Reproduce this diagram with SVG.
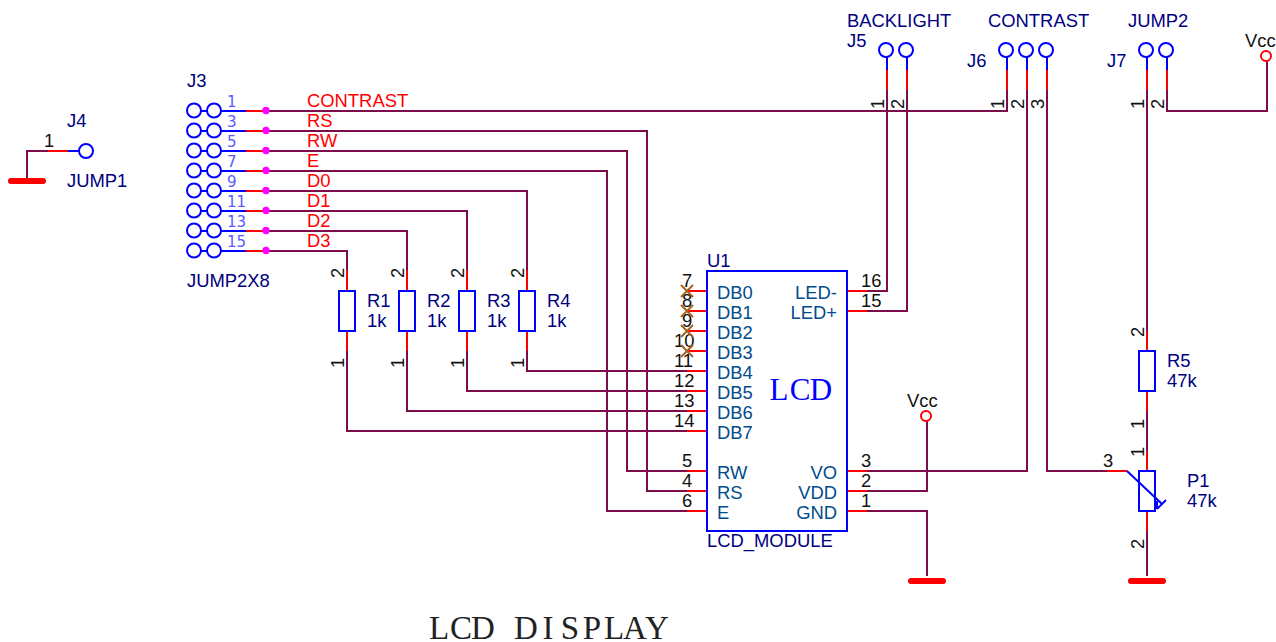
<svg xmlns="http://www.w3.org/2000/svg" width="1276" height="642" viewBox="0 0 1276 642">
<style>
text{font-family:"Liberation Sans",Arial,sans-serif;font-size:18.400px}
.w{fill:none;stroke:#7d0d4a;stroke-width:2}
.r{fill:none;stroke:#ff0000;stroke-width:2}
.b{fill:none;stroke:#0000ff;stroke-width:2}
.box{fill:#fff;stroke:#0000ff;stroke-width:2}
.c{fill:#fff;stroke:#0000ff;stroke-width:2}
.v{fill:#fff;stroke:#ff0000;stroke-width:2}
.bar{fill:none;stroke:#ff0000;stroke-width:6;stroke-linecap:round}
.dot{fill:#ff00ff}
.x{fill:none;stroke:#a8641e;stroke-width:2}
.n{fill:#000080}
.net{fill:#ff0000}
.num{fill:#111}
.pn{fill:#5a5aff;font-family:"DejaVu Sans",sans-serif;font-size:15px}
.sig{fill:#004c8c}
.e{text-anchor:end}
.big{font-family:"Liberation Serif",serif;text-anchor:middle}
</style>
<g id="connectors">
<path class="w" d="M266 111H1007V90M266 131H647V491H687M266 151H627V471H687M266 171H607V511H687M266 191H527V270M266 211H467V270M266 231H407V270M266 251H347V270"/>
<path class="w" d="M527 351V371H687M467 351V391H687M407 351V411H687M347 351V431H687"/>
<path class="w" d="M867 291H887V90M867 311H907V90M867 471H1027V90M867 491H927V421M867 511H927V576M1047 90V471H1107M1167 90V111H1267V61M1147 90V331M1147 411V451M1147 531V576M48 151H27V178"/>
</g>
<g id="J4">
<path class="r" d="M48 151H68"/><path class="b" d="M68 151H79"/><circle class="c" cx="86" cy="151" r="7"/>
<path class="bar" d="M11 181H43"/>
<text class="num" x="44" y="147">1</text><text class="n" x="67" y="127">J4</text><text class="n" x="67" y="187">JUMP1</text>
</g>
<g id="J3">
<text class="n" x="187" y="87">J3</text><text class="n" x="187" y="287">JUMP2X8</text>
<g id="J3-pins">
<path class="b" d="M194 111H246M194 131H246M194 151H246M194 171H246M194 191H246M194 211H246M194 231H246M194 251H246"/>
<path class="r" d="M246 111H266M246 131H266M246 151H266M246 171H266M246 191H266M246 211H266M246 231H266M246 251H266"/>
<g class="c"><circle cx="194" cy="110.500" r="7"/><circle cx="214" cy="110.500" r="7"/><circle cx="194" cy="130.500" r="7"/><circle cx="214" cy="130.500" r="7"/><circle cx="194" cy="150.500" r="7"/><circle cx="214" cy="150.500" r="7"/><circle cx="194" cy="170.500" r="7"/><circle cx="214" cy="170.500" r="7"/><circle cx="194" cy="190.500" r="7"/><circle cx="214" cy="190.500" r="7"/><circle cx="194" cy="210.500" r="7"/><circle cx="214" cy="210.500" r="7"/><circle cx="194" cy="230.500" r="7"/><circle cx="214" cy="230.500" r="7"/><circle cx="194" cy="250.500" r="7"/><circle cx="214" cy="250.500" r="7"/></g>
<g class="dot"><circle cx="266" cy="110.500" r="3.700"/><circle cx="266" cy="130.500" r="3.700"/><circle cx="266" cy="150.500" r="3.700"/><circle cx="266" cy="170.500" r="3.700"/><circle cx="266" cy="190.500" r="3.700"/><circle cx="266" cy="210.500" r="3.700"/><circle cx="266" cy="230.500" r="3.700"/><circle cx="266" cy="250.500" r="3.700"/></g>
<text class="pn" x="227" y="107">1</text><text class="pn" x="227" y="127">3</text><text class="pn" x="227" y="147">5</text><text class="pn" x="227" y="167">7</text><text class="pn" x="227" y="187">9</text><text class="pn" x="227" y="207">11</text><text class="pn" x="227" y="227">13</text><text class="pn" x="227" y="247">15</text>
</g>
<text class="net" x="307" y="107">CONTRAST</text><text class="net" x="307" y="127">RS</text><text class="net" x="307" y="147">RW</text><text class="net" x="307" y="167">E</text><text class="net" x="307" y="187">D0</text><text class="net" x="307" y="207">D1</text><text class="net" x="307" y="227">D2</text><text class="net" x="307" y="247">D3</text>
</g>
<g id="R1"><path class="r" d="M347 270V291M347 331V351"/><rect class="box" x="339" y="291" width="16" height="40"/><text class="num" transform="translate(344 278) rotate(-90)">2</text><text class="num" transform="translate(344 368) rotate(-90)">1</text><text class="n" x="367" y="307">R1</text><text class="n" x="367" y="327">1k</text></g>
<g id="R2"><path class="r" d="M407 270V291M407 331V351"/><rect class="box" x="399" y="291" width="16" height="40"/><text class="num" transform="translate(404 278) rotate(-90)">2</text><text class="num" transform="translate(404 368) rotate(-90)">1</text><text class="n" x="427" y="307">R2</text><text class="n" x="427" y="327">1k</text></g>
<g id="R3"><path class="r" d="M467 270V291M467 331V351"/><rect class="box" x="459" y="291" width="16" height="40"/><text class="num" transform="translate(464 278) rotate(-90)">2</text><text class="num" transform="translate(464 368) rotate(-90)">1</text><text class="n" x="487" y="307">R3</text><text class="n" x="487" y="327">1k</text></g>
<g id="R4"><path class="r" d="M527 270V291M527 331V351"/><rect class="box" x="519" y="291" width="16" height="40"/><text class="num" transform="translate(524 278) rotate(-90)">2</text><text class="num" transform="translate(524 368) rotate(-90)">1</text><text class="n" x="547" y="307">R4</text><text class="n" x="547" y="327">1k</text></g>
<g id="U1">
<path class="r" d="M687 291H707M687 311H707M687 331H707M687 351H707M687 371H707M687 391H707M687 411H707M687 431H707M687 471H707M687 491H707M687 511H707M847 291H867M847 311H867M847 471H867M847 491H867M847 511H867"/>
<rect class="box" x="707" y="271" width="140" height="260"/>
<text class="n" x="707" y="267">U1</text><text class="n" x="707" y="547">LCD_MODULE</text>
<text class="num" x="682" y="287">7</text><text class="num" x="682" y="307">8</text><text class="num" x="682" y="327">9</text><text class="num" x="674" y="347">10</text><text class="num" x="674" y="367">11</text><text class="num" x="674" y="387">12</text><text class="num" x="674" y="407">13</text><text class="num" x="674" y="427">14</text><text class="num" x="682" y="467">5</text><text class="num" x="682" y="487">4</text><text class="num" x="682" y="507">6</text>
<path class="x" d="M681 285L693 297M693 285L681 297M681 305L693 317M693 305L681 317M681 325L693 337M693 325L681 337M681 345L693 357M693 345L681 357"/>
<text class="num" x="861" y="287">16</text><text class="num" x="861" y="307">15</text><text class="num" x="861" y="467">3</text><text class="num" x="861" y="487">2</text><text class="num" x="861" y="507">1</text>
<text class="sig" x="717" y="299">DB0</text><text class="sig" x="717" y="319">DB1</text><text class="sig" x="717" y="339">DB2</text><text class="sig" x="717" y="359">DB3</text><text class="sig" x="717" y="379">DB4</text><text class="sig" x="717" y="399">DB5</text><text class="sig" x="717" y="419">DB6</text><text class="sig" x="717" y="439">DB7</text><text class="sig" x="717" y="479">RW</text><text class="sig" x="717" y="499">RS</text><text class="sig" x="717" y="519">E</text>
<text class="sig e" x="837" y="299">LED-</text><text class="sig e" x="837" y="319">LED+</text><text class="sig e" x="837" y="479">VO</text><text class="sig e" x="837" y="499">VDD</text><text class="sig e" x="837" y="519">GND</text>
<text class="big" x="779 800 821" y="400" fill="#0000ff" style="font-size:31px">LCD</text>
</g>
<g id="VCC1"><circle class="v" cx="926" cy="416" r="5"/><text class="num" x="907" y="407">Vcc</text></g>
<g id="GND1"><path class="bar" d="M911 581H943"/></g>
<g id="J5">
<path class="b" d="M887 57V70M907 57V70"/><path class="r" d="M887 70V90M907 70V90"/>
<circle class="c" cx="886" cy="50" r="7"/><circle class="c" cx="906" cy="50" r="7"/>
<text class="n" x="847" y="27">BACKLIGHT</text><text class="n" x="847" y="47">J5</text>
<text class="num" transform="translate(884 109) rotate(-90)">1</text><text class="num" transform="translate(904 109) rotate(-90)">2</text>
</g>
<g id="J6">
<path class="b" d="M1007 57V70M1027 57V70M1047 57V70"/><path class="r" d="M1007 70V90M1027 70V90M1047 70V90"/>
<circle class="c" cx="1006" cy="50" r="7"/><circle class="c" cx="1026" cy="50" r="7"/><circle class="c" cx="1046" cy="50" r="7"/>
<text class="n" x="988" y="27">CONTRAST</text><text class="n" x="967" y="67">J6</text>
<text class="num" transform="translate(1004 109) rotate(-90)">1</text><text class="num" transform="translate(1024 109) rotate(-90)">2</text><text class="num" transform="translate(1044 109) rotate(-90)">3</text>
</g>
<g id="J7">
<path class="b" d="M1147 57V70M1167 57V70"/><path class="r" d="M1147 70V90M1167 70V90"/>
<circle class="c" cx="1146" cy="50" r="7"/><circle class="c" cx="1166" cy="50" r="7"/>
<text class="n" x="1128" y="27">JUMP2</text><text class="n" x="1107" y="67">J7</text>
<text class="num" transform="translate(1144 109) rotate(-90)">1</text><text class="num" transform="translate(1164 109) rotate(-90)">2</text>
</g>
<g id="VCC2"><circle class="v" cx="1266" cy="56" r="5"/><text class="num" x="1245" y="47">Vcc</text></g>
<g id="R5"><path class="r" d="M1147 331V351M1147 391V411"/><rect class="box" x="1139" y="351" width="16" height="40"/><text class="num" transform="translate(1144 337) rotate(-90)">2</text><text class="num" transform="translate(1144 429) rotate(-90)">1</text><text class="n" x="1167" y="367">R5</text><text class="n" x="1167" y="387">47k</text></g>
<g id="P1"><path class="r" d="M1147 451V471M1147 511V531M1107 471H1127"/><rect class="box" x="1139" y="471" width="16" height="40"/><path class="b" d="M1127 471L1162 504M1157 509L1166 500M1157 509V501"/><text class="num" x="1103" y="467">3</text><text class="num" transform="translate(1144 457) rotate(-90)">1</text><text class="num" transform="translate(1144 549) rotate(-90)">2</text><text class="n" x="1187" y="487">P1</text><text class="n" x="1187" y="507">47k</text></g>
<g id="GND2"><path class="bar" d="M1131 581H1163"/></g>
<text class="big" x="439 461 483 505 526 548 570 592 614 635 657" y="639" fill="#222" style="font-size:33px">LCD DISPLAY</text>
</svg>
